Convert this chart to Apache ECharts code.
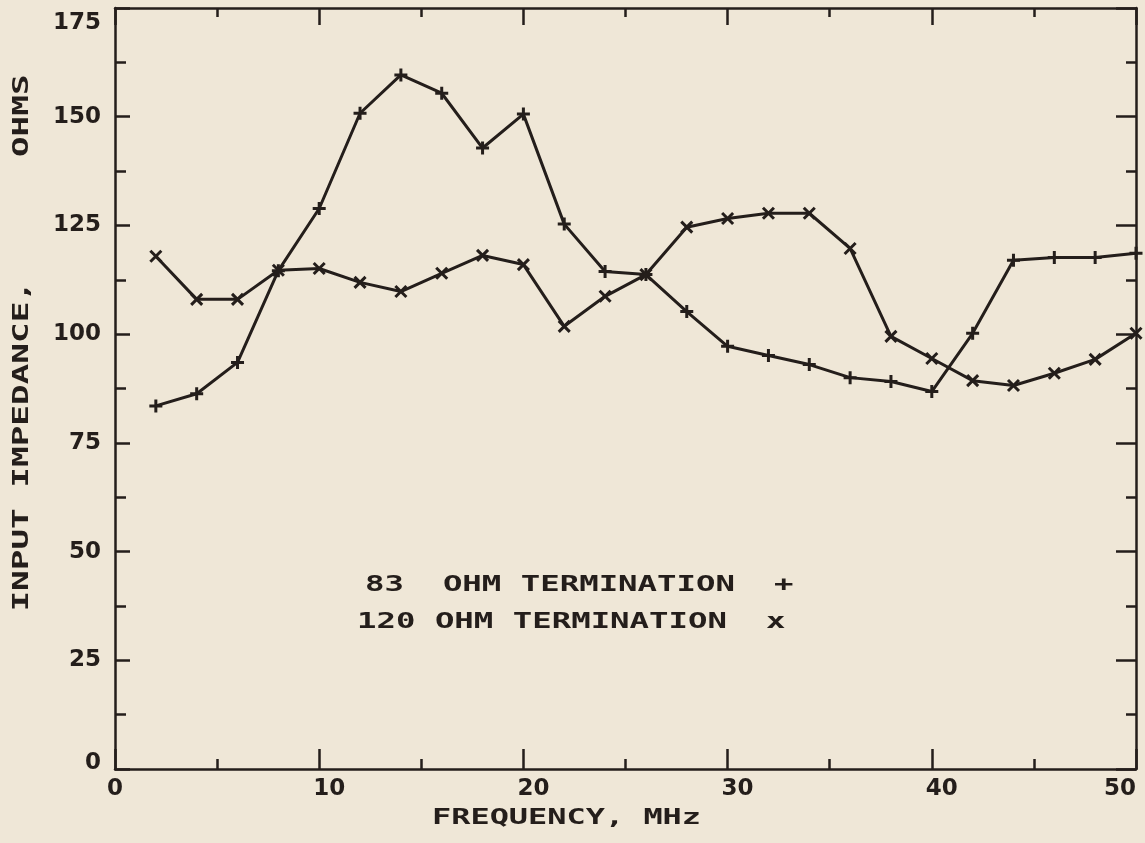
<!DOCTYPE html>
<html>
<head>
<meta charset="utf-8">
<script src="https://cdn.jsdelivr.net/npm/echarts@6/dist/echarts.min.js"></script>
<style>
html,body{margin:0;padding:0;background:#EFE7D7;}
#chart{width:1145px;height:843px;}
</style>
</head>
<body>
<div id="chart"></div>
<script>
// Frequencies (MHz)
const freqs = [2,4,6,8,10,12,14,16,18,20,22,24,26,28,30,32,34,36,38,40,42,44,46,48,50];
// 83 ohm termination (+)
const ohm83 = [83.5,86.3,93.5,114.6,128.9,150.8,159.6,155.4,142.8,150.6,125.3,114.4,113.7,105.2,97.2,95.1,93.0,90.0,89.1,86.8,100.2,117.0,117.6,117.6,118.6];
// 120 ohm termination (x)
const ohm120 = [117.9,108.0,108.0,114.7,115.1,111.9,109.8,114.0,118.1,116.0,101.8,108.7,113.7,124.6,126.6,127.8,127.8,119.7,99.5,94.4,89.3,88.2,91.0,94.2,100.2];
// Tick settings
const xTicks = [0,10,20,30,40,50];
const yTicks = [0,25,50,75,100,125,150,175];
const xName = 'FREQUENCY, MHz';
const yName = 'INPUT IMPEDANCE,      OHMS';
const legendLines = ['83  OHM TERMINATION  +', '120 OHM TERMINATION  x'];

const INK = '#241e1b';
const chart = echarts.init(document.getElementById('chart'));

const pair = (xs, ys) => xs.map((x, i) => [x, ys[i]]);
const axisLine = {show: true, onZero: false, lineStyle: {color: INK, width: 2.5}};
const labelFont = {fontFamily: 'DejaVu Sans', fontWeight: 'bold', fontSize: 23, color: INK};
const tick = (len) => ({show: true, inside: true, length: len, lineStyle: {color: INK, width: 2.5}});
const minor = (len) => ({show: true, splitNumber: 2, length: len, lineStyle: {color: INK, width: 2.5}});

const plusPath = 'path://M5,0 L5,10 M0,5 L10,5';
const crossPath = 'path://M0,0 L10,10 M10,0 L0,10';

chart.setOption({
  backgroundColor: '#EFE7D7',
  animation: false,
  grid: {left: 115, right: 9, top: 8, bottom: 74, containLabel: false},
  xAxis: [{
    type: 'value', min: xTicks[0], max: xTicks[xTicks.length-1], interval: 10,
    position: 'bottom',
    axisLine: axisLine,
    axisTick: tick(20),
    minorTick: minor(10),
    splitLine: {show: false},
    axisLabel: Object.assign({
      margin: 9,
      alignMaxLabel: 'right',
      formatter: v => (v === 0 || v === 50) ? String(v) : '{s|' + v + '}',
      rich: {s: Object.assign({padding: [0,0,0,20]}, labelFont)}
    }, labelFont)
  }, {
    type: 'value', min: xTicks[0], max: xTicks[xTicks.length-1], interval: 10,
    position: 'top',
    axisLine: axisLine,
    axisTick: tick(17),
    minorTick: minor(9),
    splitLine: {show: false},
    axisLabel: {show: false}
  }],
  yAxis: [{
    type: 'value', min: yTicks[0], max: yTicks[yTicks.length-1], interval: 25,
    position: 'left',
    axisLine: axisLine,
    axisTick: tick(15),
    minorTick: minor(11),
    splitLine: {show: false},
    axisLabel: Object.assign({
      margin: 14,
      formatter: v => v === 175 ? '{t|175}' : (v === 0 ? '{b|0}' : String(v)),
      rich: {
        t: Object.assign({padding: [30,0,0,0]}, labelFont),
        b: Object.assign({padding: [0,0,12,0]}, labelFont)
      }
    }, labelFont)
  }, {
    type: 'value', min: yTicks[0], max: yTicks[yTicks.length-1], interval: 25,
    position: 'right',
    axisLine: axisLine,
    axisTick: tick(20),
    minorTick: minor(10),
    splitLine: {show: false},
    axisLabel: {show: false}
  }],
  series: [{
    name: '83 OHM TERMINATION',
    type: 'line',
    data: pair(freqs, ohm83),
    symbol: plusPath, symbolSize: 13,
    lineStyle: {color: INK, width: 3},
    itemStyle: {color: INK, borderColor: INK, borderWidth: 3},
    z: 5
  }, {
    name: '120 OHM TERMINATION',
    type: 'line',
    data: pair(freqs, ohm120),
    symbol: crossPath, symbolSize: 11,
    lineStyle: {color: INK, width: 3},
    itemStyle: {color: INK, borderColor: INK, borderWidth: 3},
    z: 5
  }],
  graphic: [{
    type: 'text', left: 365, top: 575, scaleX: 1.54,
    style: {text: legendLines[0], fontFamily: 'DejaVu Sans Mono', fontWeight: 'bold', fontSize: 21, fill: INK}
  }, {
    type: 'text', left: 357, top: 612, scaleX: 1.54,
    style: {text: legendLines[1], fontFamily: 'DejaVu Sans Mono', fontWeight: 'bold', fontSize: 21, fill: INK}
  }, {
    type: 'text', left: 432, top: 808, scaleX: 1.52,
    style: {text: xName, fontFamily: 'DejaVu Sans Mono', fontWeight: 'bold', fontSize: 21, fill: INK}
  }, {
    type: 'text', x: 22, y: 343, rotation: Math.PI / 2, scaleX: 1.56,
    style: {text: yName, fontFamily: 'DejaVu Sans Mono', fontWeight: 'bold', fontSize: 22, fill: INK, align: 'center', verticalAlign: 'middle'}
  }]
});
</script>
</body>
</html>
